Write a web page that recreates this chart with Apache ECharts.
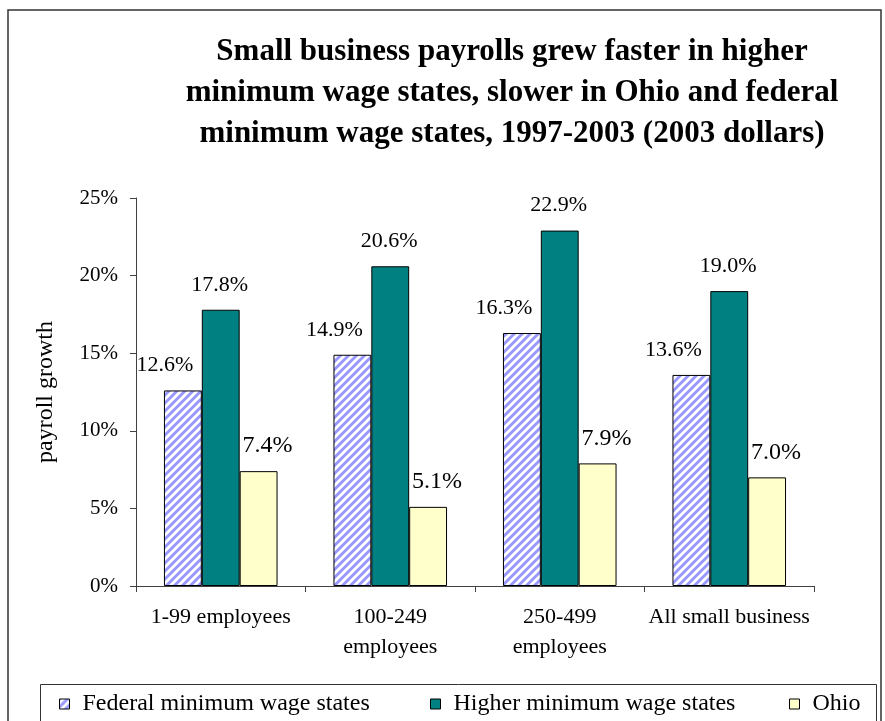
<!DOCTYPE html>
<html>
<head>
<meta charset="utf-8">
<script src="https://cdn.jsdelivr.net/npm/echarts@6/dist/echarts.min.js"></script>
<style>
  html, body { margin: 0; padding: 0; background: #fff; }
  #main { width: 885px; height: 721px; }
</style>
</head>
<body>
<div id="main"></div>
<script>
// data
var categories = ['1-99 employees', '100-249\nemployees', '250-499\nemployees', 'All small business'];
var seriesNames = ['Federal minimum wage states', 'Higher minimum wage states', 'Ohio'];
var federalStates = [12.6, 14.9, 16.3, 13.6];
var higherStates = [17.8, 20.6, 22.9, 19.0];
var ohioValues = [7.4, 5.1, 7.9, 7.0];
var yMin = 0, yMax = 25, yStep = 5;

var serif = "'Liberation Serif', 'Times New Roman', serif";

// diagonal hatch fill for the federal bars
function hatchPattern() {
  var c = document.createElement('canvas');
  c.width = 8;
  c.height = 8;
  var ctx = c.getContext('2d');
  ctx.fillStyle = '#ffffff';
  ctx.fillRect(0, 0, 8, 8);
  ctx.strokeStyle = '#9999ff';
  ctx.lineWidth = 3;
  ctx.beginPath();
  ctx.moveTo(-2, 10); ctx.lineTo(10, -2);
  ctx.moveTo(-6, 6); ctx.lineTo(6, -6);
  ctx.moveTo(2, 14); ctx.lineTo(14, 2);
  ctx.stroke();
  return c;
}

function pct(p) {
  return p.value.toFixed(1) + '%';
}

var myChart = echarts.init(document.getElementById('main'));

function barSeries(name, data, fill, labelSize, dx, dist) {
  return {
    name: name,
    type: 'bar',
    data: data,
    barGap: '0%',
    barCategoryGap: '33%',
    itemStyle: { color: fill, borderColor: '#000', borderWidth: 1 },
    label: {
      show: true,
      position: 'top',
      distance: dist,
      offset: [dx, 0],
      formatter: pct,
      fontFamily: serif,
      fontSize: labelSize,
      color: '#000'
    }
  };
}

var legendText = { fontFamily: serif, fontSize: 24, color: '#000', padding: [0, 0, 0, 8] };
function legendAt(name, x) {
  return {
    data: [name],
    left: x,
    top: 692,
    padding: 0,
    icon: 'rect',
    itemWidth: 10,
    itemHeight: 10,
    itemStyle: { borderColor: '#000', borderWidth: 1 },
    textStyle: legendText
  };
}

var option = {
  animation: false,
  backgroundColor: '#fff',
  title: {
    text: 'Small business payrolls grew faster in higher\nminimum wage states, slower in Ohio and federal\nminimum wage states, 1997-2003 (2003 dollars)',
    left: 507,
    top: 26,
    textAlign: 'center',
    textStyle: {
      fontFamily: serif,
      fontWeight: 'bold',
      fontSize: 31,
      lineHeight: 41,
      color: '#000'
    }
  },
  grid: { left: 136, right: 71, top: 198, bottom: 135 },
  legend: [
    legendAt(seriesNames[0], 59),
    legendAt(seriesNames[1], 430),
    legendAt(seriesNames[2], 789)
  ],
  xAxis: {
    type: 'category',
    data: categories,
    axisLine: { lineStyle: { color: '#404040', width: 1 } },
    axisTick: { show: true, length: 6, lineStyle: { color: '#404040' } },
    axisLabel: {
      interval: 0,
      margin: 16,
      fontFamily: serif,
      fontSize: 22,
      lineHeight: 30,
      color: '#000'
    }
  },
  yAxis: {
    type: 'value',
    min: yMin,
    max: yMax,
    interval: yStep,
    name: 'payroll growth',
    nameLocation: 'middle',
    nameRotate: 90,
    nameGap: 78,
    nameTextStyle: { fontFamily: serif, fontSize: 24, color: '#000' },
    splitLine: { show: false },
    axisLine: { show: true, lineStyle: { color: '#404040', width: 1 } },
    axisTick: { show: true, length: 6, lineStyle: { color: '#404040' } },
    axisLabel: {
      margin: 18,
      formatter: '{value}%',
      fontFamily: serif,
      fontSize: 21,
      color: '#000'
    }
  },
  series: [
    barSeries(seriesNames[0], federalStates, { image: hatchPattern(), repeat: 'repeat' }, 22, -18, 14),
    barSeries(seriesNames[1], higherStates, '#008080', 22, -1, 14),
    barSeries(seriesNames[2], ohioValues, '#ffffcc', 24, 9, 13)
  ],
  graphic: [
    {
      type: 'rect',
      silent: true,
      shape: { x: 8, y: 10, width: 873, height: 800 },
      style: { fill: null, stroke: '#333', lineWidth: 1.5 }
    },
    {
      type: 'rect',
      silent: true,
      shape: { x: 40.5, y: 684.5, width: 836, height: 60 },
      style: { fill: null, stroke: '#333', lineWidth: 1 }
    }
  ]
};

myChart.setOption(option);
</script>
</body>
</html>
